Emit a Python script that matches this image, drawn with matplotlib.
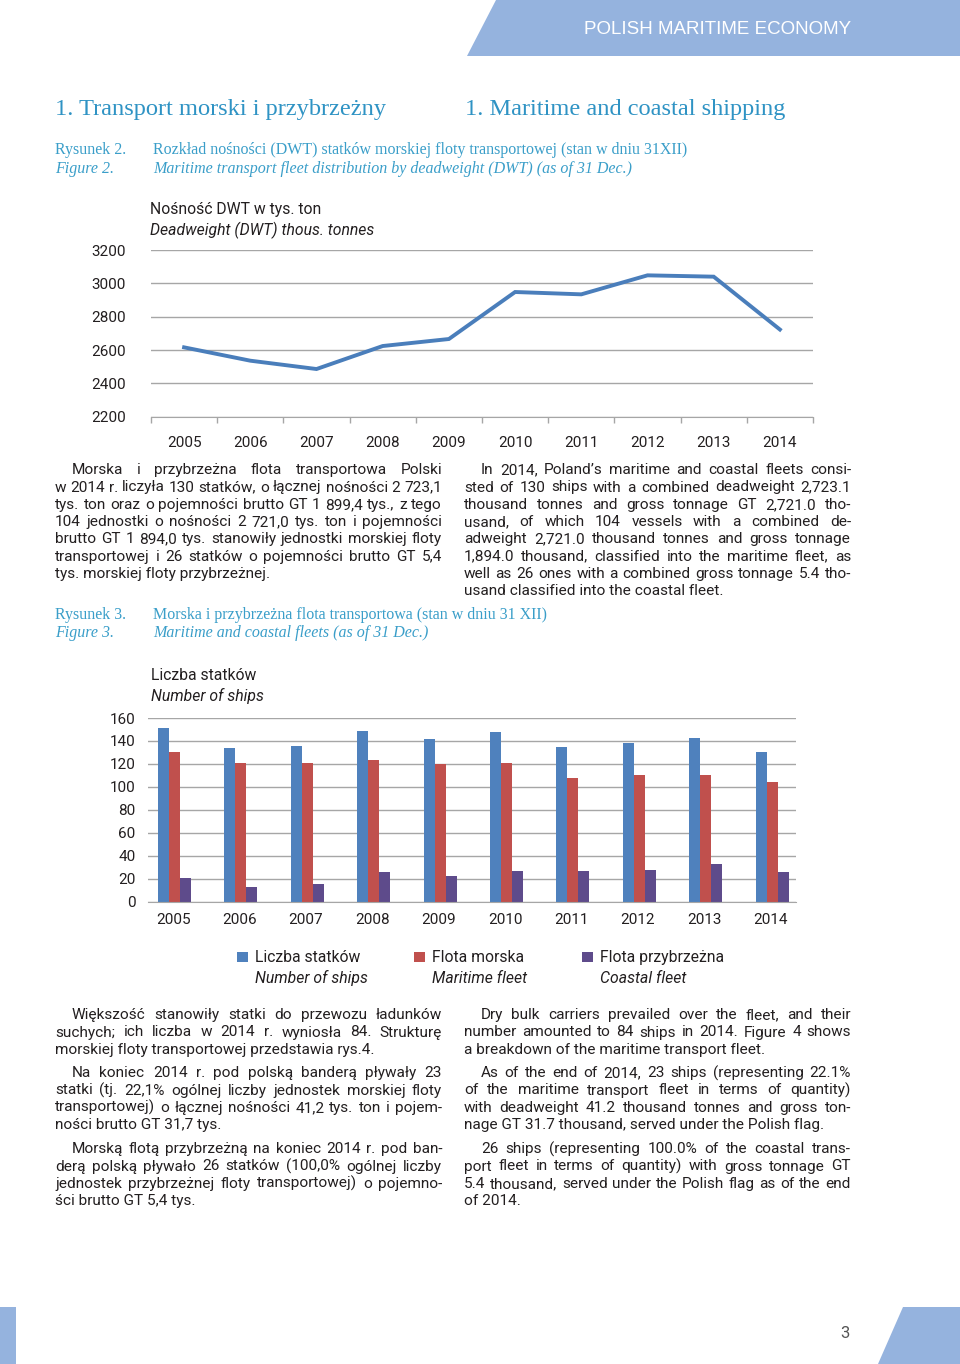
import numpy as np
import matplotlib
matplotlib.use("Agg")
import matplotlib.pyplot as plt
from matplotlib.patches import Polygon, Rectangle
from matplotlib import font_manager as fm

W, H = 960, 1364

# ---- data ----
years = ["2005", "2006", "2007", "2008", "2009", "2010", "2011", "2012", "2013", "2014"]
dwt = [2616, 2536, 2486, 2624, 2666, 2948, 2934, 3048, 3040, 2723]
ships_total = [151, 134, 136, 149, 142, 148, 135, 138, 143, 130]
ships_maritime = [130, 121, 121, 123, 120, 121, 108, 110, 110, 104]
ships_coastal = [21, 13, 15, 26, 22, 27, 27, 28, 33, 26]
dwt_ticks = [2200, 2400, 2600, 2800, 3000, 3200]
ship_ticks = [0, 20, 40, 60, 80, 100, 120, 140, 160]

names = {f.name for f in fm.fontManager.ttflist}
BODY = "Liberation Sans Narrow" if "Liberation Sans Narrow" in names else "Roboto"
NUM = "Roboto"
SERIF = "Liberation Serif"

TEAL = "#2f93c4"
CAP = "#3a9ec9"
BANNER = "#95b3de"
INK = "#231f20"
GRID = "#a6a6a6"
BLUE = "#4f81bd"
RED = "#c0504d"
PURPLE = "#5e4b8b"
LINE = "#4a7ebb"

fig = plt.figure(figsize=(W / 100, H / 100), dpi=100)
fig.patch.set_facecolor("white")


def fxy(x, y):
    return x / W, 1 - y / H


def txt(x, y, s, size, color=INK, ha="left", va="center", style="normal", family=BODY):
    return fig.text(x / W, 1 - y / H, s, fontsize=size, color=color, ha=ha, va=va,
                    style=style, family=[family, "DejaVu Sans"])


def line_txt(x, y, s, size=11.1, style="normal"):
    # y is the visual middle of the line; place on a common baseline
    return txt(x, y + 4.2, s, size, va="baseline", style=style)


def para(lines, x0, x1, y0, indent=17, dy=17.3, size=11.1):
    r = fig.canvas.get_renderer()
    for i, line in enumerate(lines):
        y = y0 + i * dy
        xs = x0 + (indent if i == 0 else 0)
        if i == len(lines) - 1:
            line_txt(xs, y, line, size)
            continue
        words = line.split(" ")
        objs = [line_txt(xs, y, w, size) for w in words]
        widths = [o.get_window_extent(r).width for o in objs]
        gap = (x1 - xs - sum(widths)) / (len(words) - 1)
        x = xs
        for o, w in zip(objs, widths):
            o.set_x(x / W)
            x += w + gap


# ---- page decoration ----
fig.patches.append(Polygon([fxy(467, 56), fxy(496, 0), fxy(960, 0), fxy(960, 56)],
                           closed=True, transform=fig.transFigure, color=BANNER, lw=0))
txt(718, 29, "POLISH MARITIME ECONOMY", 13.5, color="white", ha="center", family="Liberation Sans")
fig.patches.append(Rectangle(fxy(0, 1364), 16 / W, 57 / H, transform=fig.transFigure,
                             color=BANNER, lw=0))
fig.patches.append(Polygon([fxy(878, 1364), fxy(903, 1307), fxy(960, 1307), fxy(960, 1364)],
                           closed=True, transform=fig.transFigure, color=BANNER, lw=0))
txt(845, 1334, "3", 12, color="#555555", ha="center")

# ---- headings ----
txt(55, 109, "1. Transport morski i przybrzeżny", 17.6, color=TEAL, family=SERIF)
txt(465, 109, "1. Maritime and coastal shipping", 17.6, color=TEAL, family=SERIF)

CS = 11.5
txt(55, 150, "Rysunek 2.", CS, color=CAP, family=SERIF)
txt(55, 169, "Figure 2.", CS, color=CAP, family=SERIF, style="italic")
txt(153, 150, "Rozkład nośności (DWT) statków morskiej floty transportowej (stan w dniu 31XII)",
    CS, color=CAP, family=SERIF)
txt(153, 169, "Maritime transport fleet distribution by deadweight (DWT) (as of 31 Dec.)",
    CS, color=CAP, family=SERIF, style="italic")

# ---- line chart ----
ax1 = fig.add_axes([151 / W, 1 - 416.7 / H, 662 / W, 166.7 / H])
x = np.arange(len(years))
ax1.plot(x, dwt, color=LINE, lw=2.8, solid_joinstyle="miter")
ax1.set_xlim(-0.5, len(years) - 0.5)
ax1.set_ylim(dwt_ticks[0], dwt_ticks[-1])
ax1.set_yticks(dwt_ticks)
ax1.set_yticklabels([str(v) for v in dwt_ticks], family=NUM, fontsize=11, color=INK)
ax1.set_xticks(x)
ax1.set_xticklabels(years, family=NUM, fontsize=11, color=INK)
ax1.set_xticks(np.arange(-0.5, len(years)), minor=True)
ax1.tick_params(axis="x", which="major", length=0, pad=14)
ax1.tick_params(axis="x", which="minor", length=4, color=GRID, width=1, direction="out")
ax1.tick_params(axis="y", length=0, pad=18)
ax1.grid(axis="y", color=GRID, lw=1)
for s in ["left", "right", "top"]:
    ax1.spines[s].set_visible(False)
ax1.spines["bottom"].set_color(GRID)
ax1.set_axisbelow(True)
ax1.patch.set_alpha(0)
line_txt(150, 210, "Nośność DWT w tys. ton", 11.3)
line_txt(150, 231, "Deadweight (DWT) thous. tonnes", 11.3, style="italic")

# ---- text block 1 ----
para(["Morska i przybrzeżna flota transportowa Polski",
      "w 2014 r. liczyła 130 statków, o łącznej nośności 2 723,1",
      "tys. ton oraz o pojemności brutto GT 1 899,4 tys., z tego",
      "104 jednostki o nośności 2 721,0 tys. ton i pojemności",
      "brutto GT 1 894,0 tys. stanowiły jednostki morskiej floty",
      "transportowej i 26 statków o pojemności brutto GT 5,4",
      "tys. morskiej floty przybrzeżnej."], 55, 442, 470)
para(["In 2014, Poland’s maritime and coastal fleets consi-",
      "sted of 130 ships with a combined deadweight 2,723.1",
      "thousand tonnes and gross tonnage GT 2,721.0 tho-",
      "usand, of which 104 vessels with a combined de-",
      "adweight 2,721.0 thousand tonnes and gross tonnage",
      "1,894.0 thousand, classified into the maritime fleet, as",
      "well as 26 ones with a combined gross tonnage 5.4 tho-",
      "usand classified into the coastal fleet."], 464, 851, 470)

txt(55, 615, "Rysunek 3.", CS, color=CAP, family=SERIF)
txt(55, 633, "Figure 3.", CS, color=CAP, family=SERIF, style="italic")
txt(153, 615, "Morska i przybrzeżna flota transportowa (stan w dniu 31 XII)",
    CS, color=CAP, family=SERIF)
txt(153, 633, "Maritime and coastal fleets (as of 31 Dec.)",
    CS, color=CAP, family=SERIF, style="italic")

# ---- bar chart ----
ax2 = fig.add_axes([148 / W, 1 - 901.7 / H, 648 / W, 183.7 / H])
bw = 11 / 66.4
ax2.bar(x - bw, ships_total, bw, color=BLUE, label="Liczba statków")
ax2.bar(x, ships_maritime, bw, color=RED, label="Flota morska")
ax2.bar(x + bw, ships_coastal, bw, color=PURPLE, label="Flota przybrzeżna")
ax2.set_xlim(-0.40, len(years) - 1 + 0.36)
ax2.set_ylim(ship_ticks[0], ship_ticks[-1])
ax2.set_yticks(ship_ticks)
ax2.set_yticklabels([str(v) for v in ship_ticks], family=NUM, fontsize=11, color=INK)
ax2.set_xticks(x - 0.02)
ax2.set_xticklabels(years, family=NUM, fontsize=11, color=INK)
ax2.tick_params(axis="x", length=0, pad=8)
ax2.tick_params(axis="y", length=0, pad=9)
ax2.grid(axis="y", color=GRID, lw=1)
for s in ["left", "right", "top"]:
    ax2.spines[s].set_visible(False)
ax2.spines["bottom"].set_color(GRID)
ax2.set_axisbelow(True)
ax2.patch.set_alpha(0)
line_txt(151, 676, "Liczba statków", 11.3)
line_txt(151, 697, "Number of ships", 11.3, style="italic")

# legend
for sx, col, l1, l2 in [(237, BLUE, "Liczba statków", "Number of ships"),
                        (414, RED, "Flota morska", "Maritime fleet"),
                        (582, PURPLE, "Flota przybrzeżna", "Coastal fleet")]:
    fig.patches.append(Rectangle(fxy(sx, 962), 10.5 / W, 10 / H, transform=fig.transFigure,
                                 color=col, lw=0))
    line_txt(sx + 18, 958, l1, 11.3)
    line_txt(sx + 18, 979, l2, 11.3, style="italic")

# ---- text block 2 ----
para(["Większość stanowiły statki do przewozu ładunków",
      "suchych; ich liczba w 2014 r. wyniosła 84. Strukturę",
      "morskiej floty transportowej przedstawia rys.4."], 55, 442, 1015)
para(["Na koniec 2014 r. pod polską banderą pływały 23",
      "statki (tj. 22,1% ogólnej liczby jednostek morskiej floty",
      "transportowej) o łącznej nośności 41,2 tys. ton i pojem-",
      "ności brutto GT 31,7 tys."], 55, 442, 1073)
para(["Morską flotą przybrzeżną na koniec 2014 r. pod ban-",
      "derą polską pływało 26 statków (100,0% ogólnej liczby",
      "jednostek przybrzeżnej floty transportowej) o pojemno-",
      "ści brutto GT 5,4 tys."], 55, 442, 1149)
para(["Dry bulk carriers prevailed over the fleet, and their",
      "number amounted to 84 ships in 2014. Figure 4 shows",
      "a breakdown of the maritime transport fleet."], 464, 851, 1015)
para(["As of the end of 2014, 23 ships (representing 22.1%",
      "of the maritime transport fleet in terms of quantity)",
      "with deadweight 41.2 thousand tonnes and gross ton-",
      "nage GT 31.7 thousand, served under the Polish flag."], 464, 851, 1073)
para(["26 ships (representing 100.0% of the coastal trans-",
      "port fleet in terms of quantity) with gross tonnage GT",
      "5.4 thousand, served under the Polish flag as of the end",
      "of 2014."], 464, 851, 1149)

fig.savefig("out.png", dpi=100, facecolor="white")
